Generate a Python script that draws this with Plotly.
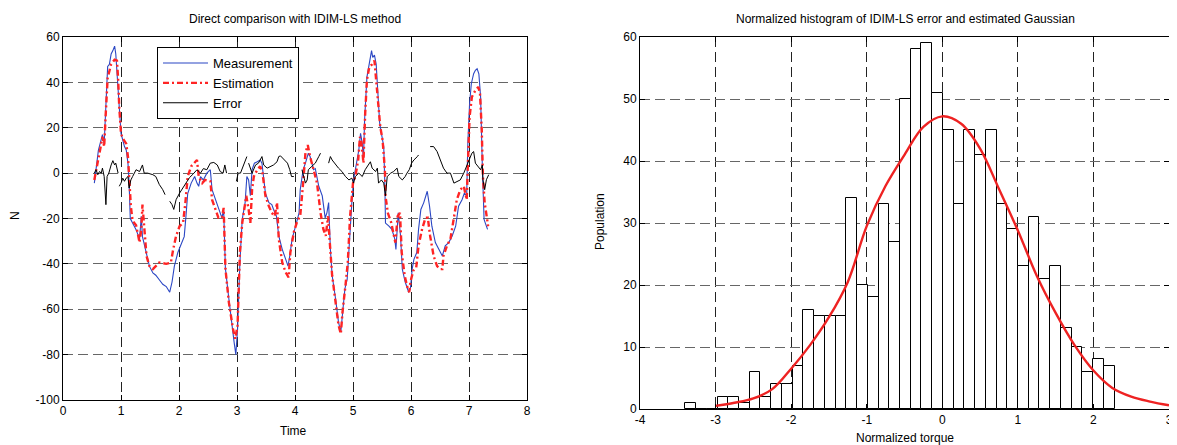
import plotly.graph_objects as go

# ---- left panel: torque time series ----
meas_t = [0.54, 0.57, 0.61, 0.66, 0.68, 0.71, 0.74, 0.77, 0.80, 0.83, 0.86, 0.89, 0.91, 0.94, 0.97,
          1.00, 1.03, 1.06, 1.09, 1.12, 1.14, 1.16, 1.20, 1.26, 1.32, 1.35, 1.37, 1.43, 1.49, 1.55,
          1.60, 1.66, 1.72, 1.78, 1.84, 1.88, 1.92, 1.98, 2.04, 2.09, 2.12, 2.15, 2.21, 2.27, 2.31,
          2.34, 2.37, 2.42, 2.48, 2.54, 2.57, 2.63, 2.68, 2.74, 2.77, 2.80, 2.86, 2.91, 2.95, 2.98,
          3.01, 3.05, 3.09, 3.14, 3.17, 3.20, 3.23, 3.26, 3.30, 3.35, 3.40, 3.43, 3.46, 3.49, 3.55,
          3.60, 3.63, 3.68, 3.72, 3.78, 3.84, 3.88, 3.91, 3.95, 4.01, 4.07, 4.09, 4.14, 4.18, 4.23,
          4.26, 4.29, 4.32, 4.35, 4.41, 4.47, 4.52, 4.55, 4.58, 4.61, 4.64, 4.70, 4.75, 4.79, 4.82,
          4.86, 4.90, 4.94, 4.98, 5.01, 5.04, 5.07, 5.10, 5.13, 5.16, 5.18, 5.20, 5.24, 5.27, 5.30,
          5.32, 5.34, 5.37, 5.40, 5.43, 5.46, 5.49, 5.53, 5.55, 5.56, 5.62, 5.67, 5.72, 5.74, 5.78,
          5.82, 5.85, 5.90, 5.96, 5.99, 6.02, 6.05, 6.10, 6.13, 6.17, 6.22, 6.28, 6.32, 6.36, 6.42,
          6.48, 6.54, 6.59, 6.65, 6.71, 6.77, 6.82, 6.88, 6.92, 6.96, 6.98, 7.01, 7.04, 7.08, 7.11,
          7.14, 7.17, 7.20, 7.23, 7.26, 7.28, 7.32]
meas_v = [-4.4, 1.5, 10, 15, 17, 13, 31, 47, 48, 52.5, 54, 56, 52.5, 42, 31,
          17.5, 14.6, 11.7, 10.2, 4.4, -4.4, -20, -22, -25, -29, -19, -28, -35, -41, -44,
          -45, -47, -49, -50, -52.5, -48, -41, -35, -31, -28, -19, -9, -4.4, -1.5, -4.4,
          -5.8, -1.5, -3, 0, 1.5, -7.3, -11.7, -16, -19.7, -16, -42, -55.5, -67, -74.5, -80,
          -68.6, -39.4, -20.4, -13, -1.5, -3, -10, 1.5, 4.4, 5, 5.8, 4.4, -1.5, -8.8, -13,
          -13.9, -16, -19, -27.7, -33.6, -38, -41, -36.5, -29, -23.4, -17.5, -7.3, 1.5, 4.4, 8.8,
          7.3, 4.4, 1.5, 2, -5.8, -10, -19.7, -17.5, -13, -33.6, -45, -55.5, -65.7, -70, -62.8,
          -51, -46.7, -27.7, -13, -3, 1.5, 4.4, 10.2, 17.5, 13, 5.8, 23.4, 42.3, 46.7, 49.6,
          54, 51, 52, 48, 35, 22, 17.5, 11.7, -5.8, -22, -23.4, -24.8, -29, -33.6, -17.5,
          -27.7, -42.3, -48, -52.5, -51, -42.3, -38, -35, -24.8, -16, -13, -8, -14.6, -23.4, -30.6,
          -33.6, -36.5, -32, -30.6, -27.7, -23.4, -14.6, -11.7, -8.8, -10, 13, 30.7, 39.4, 43.8, 45.3,
          46, 43.8, 33.6, 3, -20.4, -21.9, -24.8]

est_t = [0.54, 0.60, 0.66, 0.68, 0.71, 0.74, 0.77, 0.83, 0.89, 0.93, 0.95, 0.97, 1.00, 1.03, 1.09,
         1.12, 1.14, 1.17, 1.20, 1.26, 1.32, 1.35, 1.37, 1.40, 1.44, 1.49, 1.55, 1.60, 1.66, 1.78,
         1.86, 1.90, 1.95, 2.01, 2.07, 2.11, 2.15, 2.21, 2.27, 2.31, 2.34, 2.40, 2.45, 2.54, 2.57,
         2.63, 2.68, 2.74, 2.77, 2.80, 2.86, 2.93, 2.97, 3.01, 3.05, 3.09, 3.12, 3.16, 3.20, 3.23,
         3.26, 3.29, 3.35, 3.40, 3.44, 3.49, 3.55, 3.60, 3.65, 3.69, 3.72, 3.78, 3.84, 3.89, 3.92,
         3.98, 4.04, 4.09, 4.14, 4.18, 4.22, 4.26, 4.32, 4.38, 4.44, 4.49, 4.53, 4.57, 4.60, 4.64,
         4.70, 4.75, 4.79, 4.82, 4.87, 4.91, 4.95, 5.00, 5.04, 5.09, 5.12, 5.14, 5.17, 5.18, 5.21,
         5.24, 5.28, 5.33, 5.37, 5.40, 5.43, 5.47, 5.51, 5.55, 5.56, 5.60, 5.66, 5.70, 5.73, 5.77,
         5.81, 5.84, 5.89, 5.93, 5.97, 5.99, 6.04, 6.09, 6.13, 6.19, 6.25, 6.29, 6.33, 6.39, 6.45,
         6.51, 6.54, 6.56, 6.62, 6.68, 6.74, 6.79, 6.85, 6.91, 6.96, 6.98, 7.01, 7.05, 7.11, 7.16,
         7.19, 7.22, 7.24, 7.27, 7.30, 7.33]
est_v = [-3, 4.4, 13, 16, 11.7, 27.7, 42, 48, 50, 49.6, 42, 29, 17.5, 15.3, 13,
         7.3, -1.5, -14.6, -21, -23, -30.6, -24.8, -13.9, -24.8, -36.5, -41, -42.3, -41, -39.4, -40,
         -39.4, -33.6, -27.7, -23.4, -21.9, -13, -1.5, 3, 5, 5.8, -1.5, -4.4, -3, -3.6, -11.7,
         -16, -19.7, -19.7, -15.3, -42, -57, -68.6, -73, -67, -35, -22, -16, -10, -16, -22,
         -7.3, -1.5, 1.5, 3, 0, -10, -14.6, -17.5, -19, -13, -29, -39.4, -43.8, -46, -35,
         -26, -21, -19, -4.4, 8.8, 12.4, 7.3, 1.5, -4.4, -17.5, -24.8, -27.7, -19, -30.6, -45,
         -57, -67, -70.8, -61, -49.6, -39.4, -19, -4.4, -1.5, 5.8, 16, 14.6, 7.3, 4.4, 26.3,
         41, 46.7, 48, 49.6, 41, 30.7, 20.4, 14.6, 1.5, -10, -17.5, -21.9, -26.3, -30.6, -19,
         -17.5, -35, -45, -49.6, -52.5, -48, -43, -41.6, -32, -24.8, -19.7, -19.7, -27.7, -36.5, -41,
         -42.3, -42.3, -36.5, -32, -29, -20.4, -11.7, -7.3, -5.8, -11.7, 7.3, 24.8, 33.6, 36.5, 38,
         35, 19, -1.5, -13, -19, -23.4]

err_t = [0.54, 0.57, 0.60, 0.63, 0.66, 0.68, 0.71, 0.74, 0.76, 0.79, 0.83, 0.86, 0.89, 0.91, 0.95, 0.96,
         0.97, 1.00, 1.03, 1.06, 1.09, 1.12, 1.14, 1.17, 1.20, 1.26, 1.32, 1.37, 1.40, 1.46, 1.55,
         1.60, 1.66, 1.72, 1.76, 1.80,
         1.84, 1.88, 1.91, 1.95, 2.01, 2.07, 2.12, 2.18, 2.24, 2.31, 2.37, 2.42, 2.48, 2.54,
         2.60, 2.66, 2.71, 2.76, 2.79, 2.82, 2.90,
         2.99, 3.02, 3.06, 3.12, 3.17, 3.18,
         3.20, 3.26, 3.32, 3.37, 3.43, 3.46, 3.52, 3.58, 3.63, 3.69, 3.72, 3.75, 3.81, 3.87, 3.91,
         3.94, 3.98, 4.05,
         4.12, 4.15, 4.18, 4.21, 4.23, 4.29, 4.35, 4.41, 4.44, 4.50,
         4.58, 4.61, 4.64, 4.70, 4.75, 4.81, 4.87, 4.93, 4.98, 5.01, 5.04, 5.10, 5.16, 5.21, 5.27,
         5.30, 5.33, 5.39, 5.42, 5.44, 5.49, 5.53, 5.56, 5.59, 5.65, 5.70, 5.76, 5.79, 5.85, 5.90,
         5.93, 5.97, 6.01, 6.05, 6.11, 6.13, 6.20,
         6.33, 6.39, 6.45, 6.51, 6.56, 6.62, 6.68, 6.74, 6.79, 6.85, 6.91, 6.96, 7.00, 7.05, 7.08,
         7.11, 7.20, 7.23, 7.24, 7.27, 7.30, 7.34]
err_v = [0, 1.5, -0.7, 0.7, 0, 2.2, -1.5, -13.9, -1.5, 0, 3.6, 5.5, 3.6, 4.4, 0, None,
         -5.8, -4.4, -2.2, -3.6, -2.2, -1.5, -6.6, -3, -1.5, 1.5, 0.7, 3.6, 0, 0, -0.7,
         -1.5, -5, -7.3, -9.5, None,
         -12.4, -13.9, -16, -11.7, -8.8, -6.6, -4.4, -2, -0.5, 1.5, 0, 2, 1.5, 4.4,
         4.7, 3.6, 0.7, 0, 3.6, 0, None,
         -3.6, 0, 0, 3.6, 7.3, None,
         4.4, 0, 3.6, 4.4, 7.3, 3.6, 2.2, 3, 3.6, 5, 7.3, 7.6, 5.8, 4.4, 1.5,
         -1.5, -1.5, None,
         1.5, -1.5, -4.4, -3, 1.5, 3, 4.4, 7.3, 8.8, None,
         4.4, 7.3, 5.8, 3.6, 2.2, 0.7, -1.5, -3, -2.2, -4.4, -1.5, 0, -1.5, 1.5, 3.6,
         5, 2.2, 0.7, 2.2, -4.4, -3, -4.4, -10, -1.5, 0, 0.7, 2.2, -1.5, -3, -1.5,
         0, 1.5, 4.4, 5.8, 7.3, 8, None,
         11.7, 11.7, 9.5, 5.8, 2.2, 0, 0, -4.4, -3.6, -3, 0, 2.9, 5.8, 8.8, 9.5,
         4.4, 1.5, 3.6, -2.9, -7.3, -2.9, -0.7]

# ---- right panel: histogram counts (40 bins) and fitted curve ----
bin_start = -3.40
bin_width = 0.142
counts = [1, 0, 0, 2, 2, 1, 6, 2, 4, 4, 7, 16, 15, 15, 15, 34, 20, 18, 33, 27,
          50, 58, 59, 51, 45, 33, 45, 41, 45, 33, 29, 23, 31, 21, 23, 13, 10, 6, 8, 7]

gauss_x = [-3.0, -2.75, -2.5, -2.25, -2.0, -1.75, -1.5, -1.25, -1.0, -0.75, -0.5, -0.25, 0.0,
           0.25, 0.5, 0.75, 1.0, 1.25, 1.5, 1.75, 2.0, 2.25, 2.5, 2.75, 3.0]
gauss_y = [0.5, 1.0, 1.7, 3.2, 6.5, 10.3, 14.8, 20.5, 29.5, 36.0, 41.0, 45.5, 47.2,
           46.0, 42.0, 35.5, 28.8, 21.5, 15.5, 10.3, 6.2, 3.4, 2.0, 1.2, 0.6]

# tick labels (plain hyphen minus, as in the original)
left_xticks = [0, 1, 2, 3, 4, 5, 6, 7, 8]
left_yticks = [-100, -80, -60, -40, -20, 0, 20, 40, 60]
right_xticks = [-4, -3, -2, -1, 0, 1, 2, 3]
right_yticks = [0, 10, 20, 30, 40, 50, 60]

bin_centers = [bin_start + bin_width * (i + 0.5) for i in range(len(counts))]

# the page body has an 8px margin, so the figure is sized/offset to fit the window
OFF = 8
W, H = 1177 - OFF, 445 - OFF
FONT = "Liberation Sans, Arial, sans-serif"

fig = go.Figure()

fig.add_trace(go.Scatter(x=meas_t, y=meas_v, mode="lines", name="Measurement",
                         line=dict(color="#2b47c4", width=1.1), xaxis="x", yaxis="y"))
fig.add_trace(go.Scatter(x=est_t, y=est_v, mode="lines", name="Estimation",
                         line=dict(color="#ff2424", width=2.4, dash="6px,3px,2px,3px"),
                         xaxis="x", yaxis="y"))
fig.add_trace(go.Scatter(x=err_t, y=err_v, mode="lines", name="Error", connectgaps=False,
                         line=dict(color="black", width=1), xaxis="x", yaxis="y"))

fig.add_trace(go.Bar(x=bin_centers, y=counts, width=bin_width, showlegend=False,
                     marker=dict(color="white", line=dict(color="black", width=1)),
                     xaxis="x2", yaxis="y2"))
fig.add_trace(go.Scatter(x=gauss_x, y=gauss_y, mode="lines", showlegend=False,
                         line=dict(color="#ee2222", width=2.4, shape="spline"),
                         xaxis="x2", yaxis="y2"))


def px_x(p):
    return (p - OFF) / W


def px_y(p):
    return 1 - (p - OFF) / H


def labels(vals):
    return [str(v) for v in vals]


axis_common = dict(showline=True, linecolor="black", linewidth=1, mirror="allticks",
                   ticks="inside", ticklen=5, tickcolor="black", showgrid=True,
                   griddash="10px,5px", gridwidth=1, zeroline=False, automargin=False,
                   tickfont=dict(family=FONT, size=12, color="black"))

fig.update_layout(
    width=W, height=H,
    margin=dict(l=0, r=0, t=0, b=0),
    paper_bgcolor="white", plot_bgcolor="white",
    bargap=0,
    font=dict(family=FONT, size=12, color="black"),
    xaxis=dict(domain=[px_x(63), px_x(527)], range=[0, 8],
               tickvals=left_xticks, ticktext=labels(left_xticks),
               gridcolor="#222", anchor="y", **axis_common),
    yaxis=dict(domain=[px_y(400), px_y(37)], range=[-100, 60],
               tickvals=left_yticks, ticktext=labels(left_yticks),
               gridcolor="#666", anchor="x", **axis_common),
    xaxis2=dict(domain=[px_x(640), px_x(1169)], range=[-4, 3],
                tickvals=right_xticks, ticktext=labels(right_xticks),
                gridcolor="#222", anchor="y2", **axis_common),
    yaxis2=dict(domain=[px_y(409), px_y(37)], range=[0, 60],
                tickvals=right_yticks, ticktext=labels(right_yticks),
                gridcolor="#666", anchor="x2", **axis_common),
    legend=dict(x=px_x(157), y=px_y(47), xanchor="left", yanchor="top",
                bgcolor="white", bordercolor="black", borderwidth=1, itemwidth=45,
                font=dict(family=FONT, size=13, color="black"), tracegroupgap=0),
)

notes = [
    ("Direct comparison with IDIM-LS method", 295, 19, 0),
    ("Time", 293, 431, 0),
    ("N", 15, 216, -90),
    ("Normalized histogram of IDIM-LS error and estimated Gaussian", 905, 19, 0),
    ("Normalized torque", 905, 438, 0),
    ("Population", 600, 222, -90),
]
for text, x, y, ang in notes:
    fig.add_annotation(text=text, x=px_x(x), y=px_y(y), xref="paper", yref="paper",
                       showarrow=False, textangle=ang, xanchor="center", yanchor="middle",
                       font=dict(family=FONT, size=12, color="black"))

fig.write_html("out.html")
